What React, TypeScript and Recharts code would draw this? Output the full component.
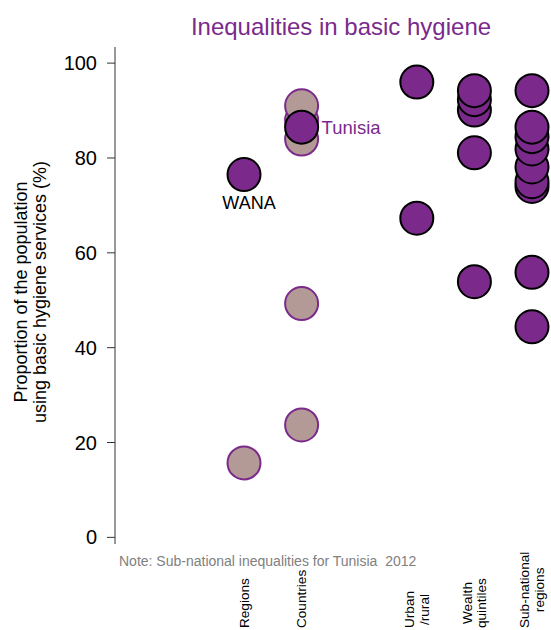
import React from 'react';
import { ScatterChart, Scatter, XAxis, YAxis } from 'recharts';

const categories = ['Regions', 'Countries', 'Urban\n/rural', 'Wealth\nquintiles', 'Sub-national\nregions'];
const categoryPositions = [1, 2, 4, 5, 6];
const yTicks = [0, 20, 40, 60, 80, 100];

const regionsOther = [15.7];
const countriesOther = [23.7, 49.3, 84.0, 88.0, 91.0];
const wanaValue = 76.5;
const tunisiaValue = 86.5;
const urbanRural = [67.3, 96.0];
const wealthQuintiles = [53.9, 81.1, 90.1, 92.3, 94.2];
const subNational = [44.4, 55.9, 74.0, 75.0, 78.1, 81.9, 84.5, 86.5, 94.2];

const CHART_W = 551;
const CHART_H = 630;
const PURPLE = '#7B2A8C';
const BROWN = '#B39A96';
const FONT = 'Arial, "Liberation Sans", sans-serif';

const brownData = [
  ...regionsOther.map((v) => ({ x: categoryPositions[0], y: v })),
  ...countriesOther.map((v) => ({ x: categoryPositions[1], y: v })),
];
const purpleData = [
  ...urbanRural.map((v) => ({ x: categoryPositions[2], y: v })),
  ...wealthQuintiles.map((v) => ({ x: categoryPositions[3], y: v })),
  ...subNational.map((v) => ({ x: categoryPositions[4], y: v })),
];
const highlightData = [
  { x: categoryPositions[0], y: wanaValue, name: 'WANA' },
  { x: categoryPositions[1], y: tunisiaValue, name: 'Tunisia' },
];

const R = 16.5;

let ctx: CanvasRenderingContext2D | null = null;
const measure = (text: string, font: string) => {
  if (!ctx) ctx = document.createElement('canvas').getContext('2d');
  if (!ctx) return text.length * 7;
  ctx.font = font;
  return ctx.measureText(text).width;
};

const BrownDot = (props: any) => (
  <circle cx={props.cx} cy={props.cy} r={R} fill={BROWN} stroke={PURPLE} strokeWidth={2} />
);
const PurpleDot = (props: any) => (
  <circle cx={props.cx} cy={props.cy} r={R} fill={PURPLE} stroke="#000" strokeWidth={2} />
);
const HighlightDot = (props: any) => {
  const { cx, cy, payload } = props;
  const isWana = payload.name === 'WANA';
  return (
    <g>
      <circle cx={cx} cy={cy} r={R} fill={PURPLE} stroke="#000" strokeWidth={2} />
      {isWana ? (
        <text x={cx + 5} y={cy + 34} textAnchor="middle" fontSize={18} fontFamily={FONT} fill="#000">
          {payload.name}
        </text>
      ) : (
        <text x={cx + 20} y={cy} textAnchor="start" dominantBaseline="central" fontSize={18.5} fontFamily={FONT} fill={PURPLE}>
          {payload.name}
        </text>
      )}
    </g>
  );
};

const XTick = (props: any) => {
  const { x, payload } = props;
  const idx = categoryPositions.indexOf(payload.value);
  if (idx < 0) return null;
  const lines = categories[idx].split('\n');
  const size = 13.6;
  const font = `${size}px ${FONT}`;
  const maxW = Math.max(...lines.map((l) => measure(l, font)));
  const bottom = CHART_H - 2;
  const cy = bottom - maxW / 2;
  const lineH = 14.5;
  return (
    <g>
      {lines.map((l, i) => {
        const lx = x + (i - (lines.length - 1) / 2) * lineH;
        return (
          <text
            key={i}
            x={lx}
            y={cy}
            transform={`rotate(-90 ${lx} ${cy})`}
            textAnchor="middle"
            dominantBaseline="central"
            fontSize={size}
            fontFamily={FONT}
            fill="#000"
          >
            {l}
          </text>
        );
      })}
    </g>
  );
};

const YTick = (props: any) => {
  const { x, y, payload } = props;
  return (
    <text x={x} y={y} textAnchor="end" dominantBaseline="central" fontSize={20} fontFamily={FONT} fill="#000">
      {payload.value}
    </text>
  );
};

const YLabel = (props: any) => {
  const vb = props.viewBox || {};
  const cy = (vb.y ?? 47) + (vb.height ?? 497) / 2 - 3.5;
  const lines = ['Proportion of the population', 'using basic hygiene services (%)'];
  const xs = [21, 40];
  return (
    <g>
      {lines.map((l, i) => (
        <text
          key={i}
          x={xs[i]}
          y={cy}
          transform={`rotate(-90 ${xs[i]} ${cy})`}
          textAnchor="middle"
          dominantBaseline="central"
          fontSize={18}
          fontFamily={FONT}
          fill="#000"
        >
          {l}
        </text>
      ))}
    </g>
  );
};

export default function App() {
  return (
    <div style={{ position: 'absolute', left: 0, top: 0, width: CHART_W, height: CHART_H, background: '#fff' }}>
      <ScatterChart width={CHART_W} height={CHART_H} margin={{ top: 47, right: 0, bottom: 0, left: 0 }}>
        <XAxis
          type="number"
          dataKey="x"
          domain={[-1.24, 6.33]}
          ticks={categoryPositions}
          axisLine={false}
          tickLine={false}
          height={86}
          tick={<XTick />}
          interval={0}
        />
        <YAxis
          type="number"
          dataKey="y"
          domain={[-1.4, 103.4]}
          ticks={yTicks}
          width={115}
          axisLine={{ stroke: '#333', strokeWidth: 1 }}
          tickLine={{ stroke: '#333', strokeWidth: 1 }}
          tickSize={8}
          tickMargin={10}
          tick={<YTick />}
          label={<YLabel />}
          allowDataOverflow
        />
        <Scatter data={brownData} shape={<BrownDot />} isAnimationActive={false} />
        <Scatter data={purpleData} shape={<PurpleDot />} isAnimationActive={false} />
        <Scatter data={highlightData} shape={<HighlightDot />} isAnimationActive={false} />
      </ScatterChart>
      <svg
        width={CHART_W}
        height={CHART_H}
        style={{ position: 'absolute', left: 0, top: 0, pointerEvents: 'none' }}
      >
        <text x={341} y={35} textAnchor="middle" fontSize={24} fontFamily={FONT} fill={PURPLE}>
          Inequalities in basic hygiene
        </text>
        <text
          x={119}
          y={566}
          textAnchor="start"
          fontSize={14}
          fontFamily={FONT}
          fill="#808080"
          style={{ whiteSpace: 'pre' }}
        >
          {'Note: Sub-national inequalities for Tunisia  2012'}
        </text>
      </svg>
    </div>
  );
}
